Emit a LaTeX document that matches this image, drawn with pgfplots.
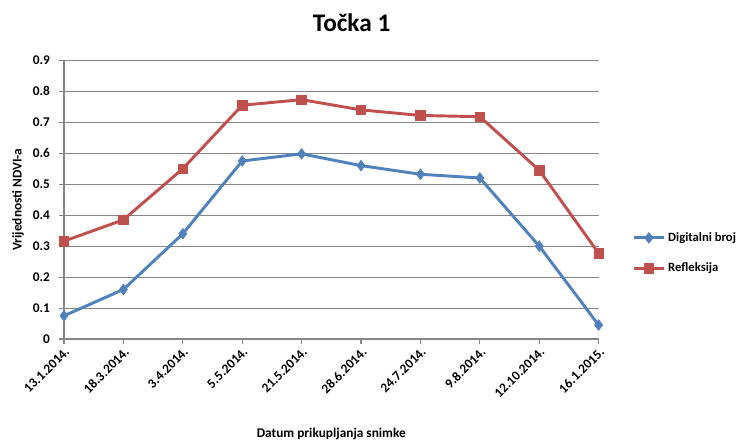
\documentclass[border=0pt]{standalone}
\usepackage{pgfplots}
\pgfplotsset{compat=1.18}
\usepackage{fontspec}
\setmainfont{Carlito}
\definecolor{xlblue}{HTML}{4F81BD}
\definecolor{xlred}{HTML}{C0504D}
\definecolor{xlgrid}{HTML}{868686}
\begin{document}
\begin{tikzpicture}
\path[use as bounding box] (-48pt,-77.25pt) rectangle (517.5pt,254.25pt);
\begin{axis}[
  scale only axis,
  width=401pt, height=209pt,
  xmin=0, xmax=9, ymin=0, ymax=0.9,
  axis x line*=bottom, axis y line*=left,
  axis line style={xlgrid, line width=0.8pt},
  ytick={0,0.1,...,0.9},
  yticklabel style={/pgf/number format/fixed, /pgf/number format/precision=1, xshift=-3pt},
  xtick={0,...,9},
  xticklabels={13.1.2014.,18.3.2014.,3.4.2014.,5.5.2014.,21.5.2014.,28.6.2014.,24.7.2014.,9.8.2014.,12.10.2014.,16.1.2015.},
  xticklabel style={rotate=45, anchor=north east, inner sep=1pt, font=\fontsize{10}{12}\selectfont\bfseries},
  yticklabel style={font=\fontsize{10}{12}\selectfont\bfseries},
  /pgf/number format/assume math mode=true,
  tick align=outside, major tick length=4pt,
  tick style={xlgrid, line width=0.8pt},
  ymajorgrids, grid style={xlgrid, line width=0.8pt},
  xlabel={Datum prikupljanja snimke},
  ylabel={Vrijednosti NDVI-a},
  label style={font=\fontsize{10}{12}\selectfont\bfseries},
  xlabel style={at={(axis description cs:0.5,0)}, anchor=center, yshift=-71.5pt},
  ylabel style={at={(axis description cs:-0.086,0.5)}, anchor=center},
  legend style={draw=none, at={(1,0.5)}, anchor=west, xshift=22pt, yshift=-40pt,
    font=\fontsize{9.5}{12}\selectfont\bfseries, row sep=10.5pt, cells={anchor=west}},
  legend image code/.code={\draw[#1] (0cm,0cm) -- (0.8cm,0cm); \draw[#1,mark repeat=2,mark phase=2] plot coordinates {(0cm,0cm)(0.4cm,0cm)(0.8cm,0cm)};},
  clip=false,
]
\addplot[xlblue, line width=2.2pt, mark=diamond*, mark size=4pt, mark options={solid, line width=0.5pt}]
 coordinates {(0,0.075)(1,0.160)(2,0.340)(3,0.575)(4,0.598)(5,0.560)(6,0.532)(7,0.520)(8,0.300)(9,0.045)};
\addlegendentry{Digitalni broj}
\addplot[xlred, line width=2.2pt, mark=square*, mark size=3.6pt, mark options={solid, line width=0.5pt}]
 coordinates {(0,0.316)(1,0.385)(2,0.550)(3,0.755)(4,0.773)(5,0.740)(6,0.722)(7,0.718)(8,0.545)(9,0.277)};
\addlegendentry{Refleksija}
\node[font=\fontsize{19}{23}\selectfont\bfseries, anchor=center] at (rel axis cs:0.538,1.135) {Točka 1};
\end{axis}
\end{tikzpicture}
\end{document}
